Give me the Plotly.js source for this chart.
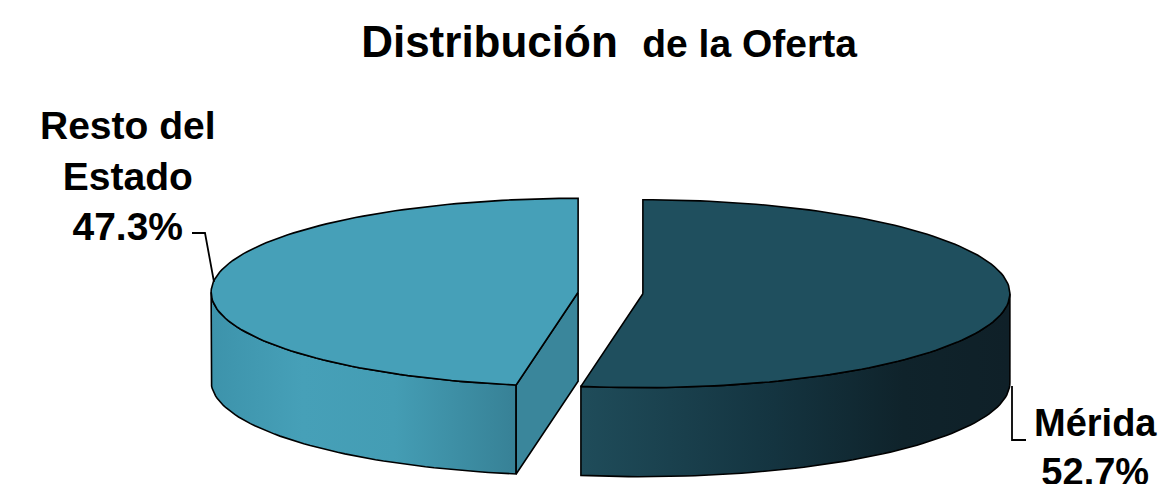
<!DOCTYPE html>
<html>
<head>
<meta charset="utf-8">
<script src="https://cdn.plot.ly/plotly-3.0.1.min.js"></script>
<style>html,body{margin:0;padding:0;background:#fff}</style>
</head>
<body>
<div id="chart" style="width:1164px;height:484px"></div>
<script>
// ---- data ----
var categories = ['Mérida', 'Resto del Estado'];
var labelText = ['Mérida', 'Resto del<br>Estado'];
var values = [52.7, 47.3];
var topColors = ['#1f4f5e', '#46a0b8'];
var sideScales = [
  [[0, '#1f4c5a'], [0.45, '#143440'], [0.75, '#0f232b'], [1, '#0f2028']],
  [[0, '#3d93ab'], [0.3, '#46a0b8'], [0.6, '#449db4'], [1, '#378196']]
];
var cutColors = ['#17343f', '#3a869b'];

// ---- geometry (pixels, plot area == page) ----
var W = 1164, H = 484;
var cx0 = 610.5, cy0 = 293, rx = 367, ry = 94, depth = 89, pull = 32.5;

function rad(d) { return d * Math.PI / 180; }
function pt(c, ang, dz) {
  return [c[0] + rx * Math.sin(rad(ang)), c[1] - ry * Math.cos(rad(ang)) + (dz || 0)];
}
function arc(c, a0, a1, dz) {
  var n = Math.max(2, Math.ceil(Math.abs(a1 - a0) / 1.5));
  var out = [];
  for (var i = 0; i <= n; i++) out.push(pt(c, a0 + (a1 - a0) * i / n, dz));
  return out;
}
function toXY(pts) {
  return {x: pts.map(function (p) { return p[0]; }), y: pts.map(function (p) { return p[1]; })};
}

var total = values.reduce(function (a, b) { return a + b; }, 0);
var sideTraces = [], topTraces = [];
var start = 0;
values.forEach(function (v, i) {
  var a0 = start, a1 = start + v / total * 360;
  start = a1;
  var mid = (a0 + a1) / 2;
  var c = [cx0 + pull * Math.sin(rad(mid)), cy0 - pull * (ry / rx) * Math.cos(rad(mid))];

  // visible outer side: intersection with [90, 270]
  var s0 = Math.max(a0, 90), s1 = Math.min(a1, 270);
  if (s1 > s0) {
    var pts = arc(c, s0, s1, 0).concat(arc(c, s1, s0, depth));
    pts.push(pts[0]);
    var xy = toXY(pts);
    sideTraces.push({
      type: 'scatter', mode: 'lines', x: xy.x, y: xy.y, fill: 'toself',
      fillgradient: {type: 'horizontal', colorscale: sideScales[i]},
      line: {color: '#000', width: 1.6}, hoverinfo: 'skip'
    });
  }
  // cut faces
  [[a0, a0 - 90], [a1, a1 + 90]].forEach(function (f) {
    if (Math.cos(rad(f[1])) < -1e-6) {
      var e = pt(c, f[0], 0), e2 = pt(c, f[0], depth);
      var pts2 = [c, e, e2, [c[0], c[1] + depth], c];
      var xy2 = toXY(pts2);
      sideTraces.push({
        type: 'scatter', mode: 'lines', x: xy2.x, y: xy2.y, fill: 'toself',
        fillcolor: cutColors[i], line: {color: '#000', width: 1.6}, hoverinfo: 'skip'
      });
    }
  });
  // top face
  var tp = [c].concat(arc(c, a0, a1, 0));
  tp.push(c);
  var xy3 = toXY(tp);
  topTraces.push({
    type: 'scatter', mode: 'lines', x: xy3.x, y: xy3.y, fill: 'toself',
    fillcolor: topColors[i], line: {color: '#000', width: 1.6}, hoverinfo: 'skip',
    name: categories[i]
  });
});

var annotations = [
  {x: 1095, y: 400, xref: 'x', yref: 'y', xanchor: 'center', yanchor: 'top', showarrow: false,
   text: '<b>' + labelText[0] + '<br>' + values[0].toFixed(1) + '%</b>',
   font: {family: 'Liberation Sans, Arial, sans-serif', size: 38, color: '#000'}},
  {x: 128, y: 102, xref: 'x', yref: 'y', xanchor: 'center', yanchor: 'top', showarrow: false,
   text: '<b>' + labelText[1] + '<br>' + values[1].toFixed(1) + '%</b>',
   font: {family: 'Liberation Sans, Arial, sans-serif', size: 39, color: '#000'}}
];

var shapes = [
  {type: 'path', xref: 'x', yref: 'y', path: 'M192,233 L205,233 L214,282', line: {color: '#000', width: 1.8}},
  {type: 'path', xref: 'x', yref: 'y', path: 'M1012,386 L1012,440 L1026,440', line: {color: '#000', width: 1.8}}
];

var layout = {
  width: W, height: H,
  margin: {l: 0, r: 0, t: 0, b: 0},
  paper_bgcolor: '#fff', plot_bgcolor: '#fff',
  showlegend: false, hovermode: false,
  title: {
    text: '<b>Distribución&nbsp; <span style="font-size:39px">de la Oferta</span></b>',
    font: {family: 'Liberation Sans, Arial, sans-serif', size: 44, color: '#000'},
    x: 609 / W, xanchor: 'center', xref: 'paper',
    y: 1 - 26 / H, yanchor: 'top', yref: 'container'
  },
  xaxis: {range: [0, W], visible: false, fixedrange: true},
  yaxis: {range: [H, 0], visible: false, fixedrange: true},
  annotations: annotations,
  shapes: shapes
};

Plotly.newPlot('chart', sideTraces.concat(topTraces), layout, {displayModeBar: false, staticPlot: true});
</script>
</body>
</html>
